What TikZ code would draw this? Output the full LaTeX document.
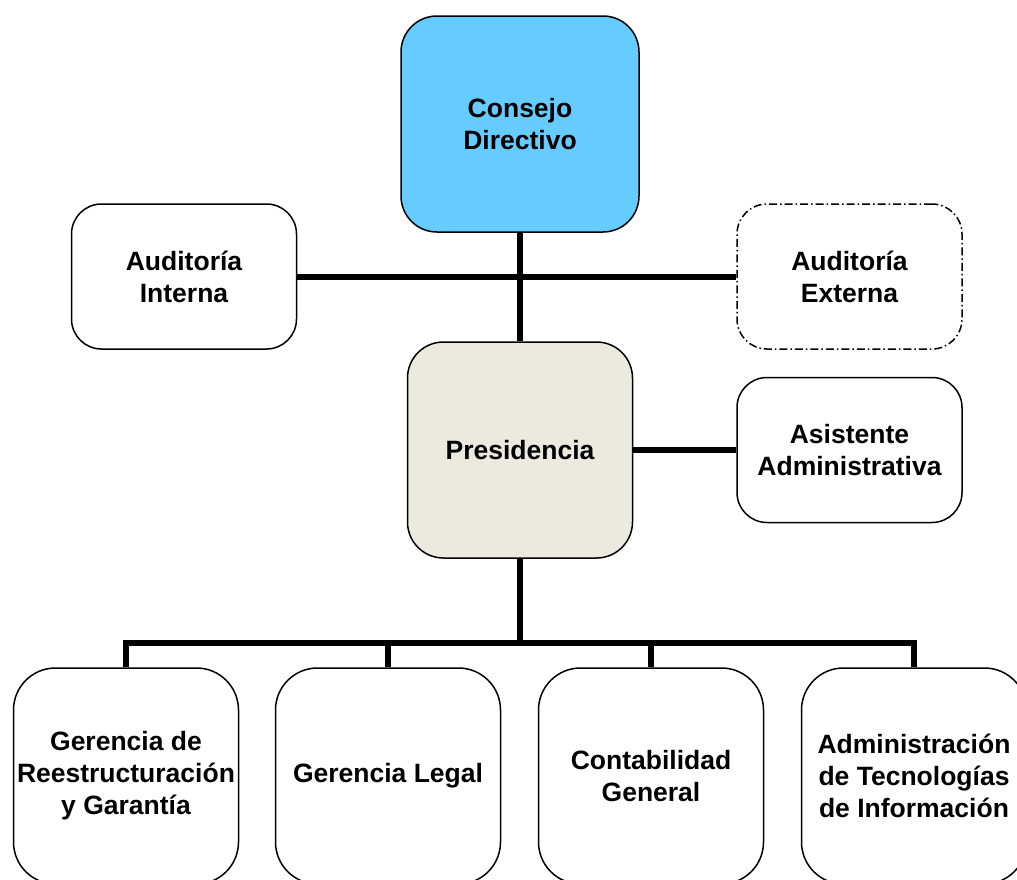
\documentclass[tikz,border=0pt]{standalone}
\usepackage{fontspec}
\setmainfont{Liberation Sans}
\usepackage{tikz}
\usetikzlibrary{positioning}
\definecolor{consejoblue}{HTML}{66CCFF}
\definecolor{presbeige}{HTML}{ECEADF}
\tikzset{
    x=1pt, y=-1pt, % one unit is one pixel of the layout
    unit/.style={draw, line width=1.5pt, rounded corners=32pt, fill=white, align=center,
        minimum width=225pt, font=\bfseries\fontsize{26.5}{32}\selectfont, inner sep=0pt}, % every box of the chart
    tall/.style={unit, minimum height=216pt, rounded corners=36pt},
    side/.style={unit, minimum height=145pt, rounded corners=30pt},
    outside/.style={side, dash pattern=on 8pt off 3pt on 1.5pt off 3pt}, % external unit
    link/.style={line width=6pt, line join=miter}, % the heavy connectors
}
\begin{document}
\begin{tikzpicture}
    \useasboundingbox (0,0) rectangle (1017,879);
    \clip (0,0) rectangle (1017,879);

    \node[tall, fill=consejoblue, minimum width=238pt] (cd) at (520,124) {Consejo\\Directivo};
    \node[side] (ai) at (184,276.5) {Auditoría\\Interna};
    \node[outside] (ae) at (849.5,276.5) {Auditoría\\Externa};
    \node[tall, fill=presbeige] (pres) at (520,450) {Presidencia};
    \node[side] (asis) at (849.5,450) {Asistente\\Administrativa};

    \node[tall, rounded corners=42pt] (g1) at (126,776) {Gerencia de\\Reestructuración\\y Garantía};
    \node[tall, rounded corners=42pt] (g2) at (388,776) {Gerencia Legal};
    \node[tall, rounded corners=42pt] (g3) at (651,776) {Contabilidad\\General};
    \node[tall, rounded corners=42pt] (g4) at (914,776) {Administración\\de Tecnologías\\de Información};

    \coordinate (bus) at (520,643);

    \draw[link] (cd.south) -- (pres.north);
    \draw[link] (ai.east) -- (ae.west);
    \draw[link] (pres.east) -- (asis.west);
    \draw[link] (pres.south) -- (bus);
    \foreach \g in {g1, g2, g3, g4}
        \draw[link] (bus) -| (\g.north);

\end{tikzpicture}
\end{document}
